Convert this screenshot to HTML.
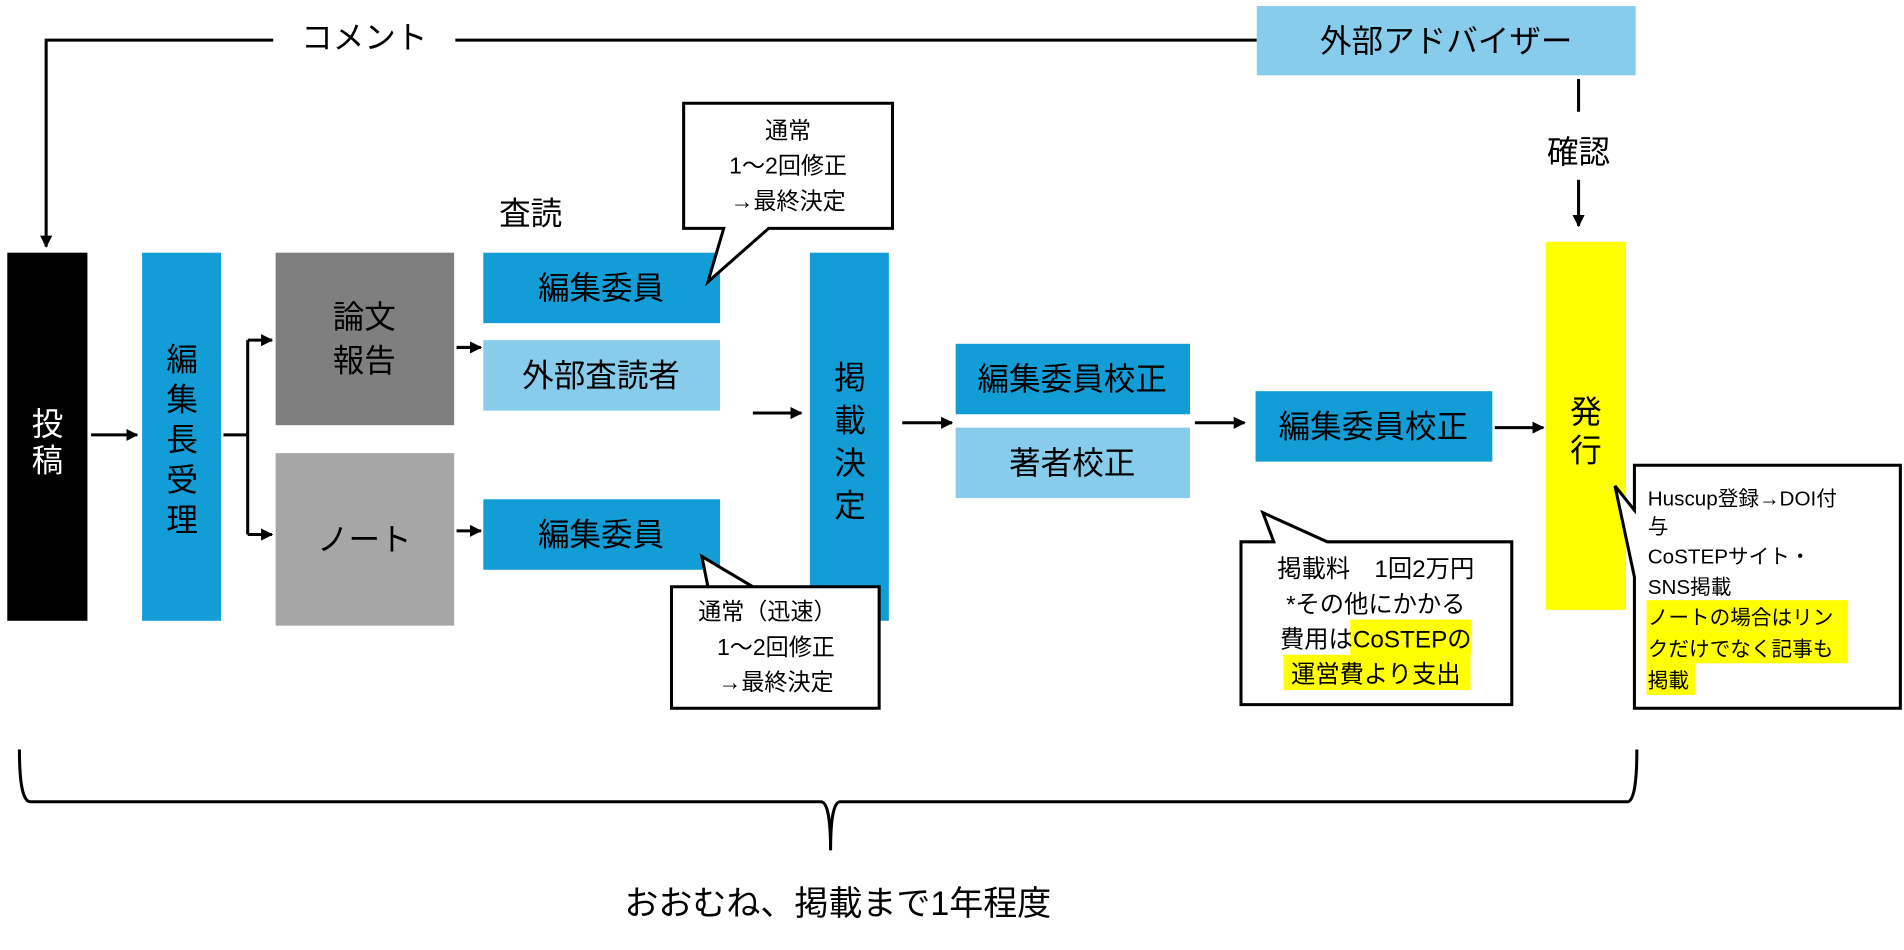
<!DOCTYPE html>
<html><head><meta charset="utf-8"><style>
html,body{margin:0;padding:0;background:#fff;}
svg{display:block;}
text{font-family:"Liberation Sans","Noto Sans CJK JP",sans-serif;fill:#000;}
</style></head><body>
<svg width="1904" height="950" viewBox="0 0 1568 782" preserveAspectRatio="none" xmlns="http://www.w3.org/2000/svg">
<defs>
<marker id="a" markerWidth="10" markerHeight="10" refX="9" refY="5" orient="auto" markerUnits="userSpaceOnUse"><path d="M0,0 L10,5 L0,10 z" fill="#000"/></marker>
</defs>
<g stroke="#000" stroke-width="2.5" fill="none">
<path d="M225,33 H38 V203" marker-end="url(#a)"/>
<path d="M375,33 H1035"/>
<path d="M1300,65 V92"/>
<path d="M1300,148 V186" marker-end="url(#a)"/>
<path d="M75,358 H113" marker-end="url(#a)"/>
<path d="M184,358 H204 M204,280 V440"/>
<path d="M204,280 H224" marker-end="url(#a)"/>
<path d="M204,440 H224" marker-end="url(#a)"/>
<path d="M376,286 H396" marker-end="url(#a)"/>
<path d="M376,437 H396" marker-end="url(#a)"/>
<path d="M620,340 H660" marker-end="url(#a)"/>
<path d="M743,348 H784" marker-end="url(#a)"/>
<path d="M984,348 H1025" marker-end="url(#a)"/>
<path d="M1231,352 H1271" marker-end="url(#a)"/>
</g>
<rect x="1035" y="5" width="312" height="57" fill="#87CCEB"/>
<rect x="6" y="208" width="66" height="303" fill="#000"/>
<rect x="117" y="208" width="65" height="303" fill="#129DD7"/>
<rect x="227" y="208" width="147" height="142" fill="#7F7F7F"/>
<rect x="227" y="373" width="147" height="142" fill="#A6A6A6"/>
<rect x="398" y="208" width="195" height="58" fill="#129DD7"/>
<rect x="398" y="280" width="195" height="58" fill="#87CCEB"/>
<rect x="398" y="411" width="195" height="58" fill="#129DD7"/>
<rect x="667" y="208" width="65" height="303" fill="#129DD7"/>
<rect x="787" y="283" width="193" height="58" fill="#129DD7"/>
<rect x="787" y="352" width="193" height="58" fill="#87CCEB"/>
<rect x="1034" y="322" width="195" height="58" fill="#129DD7"/>
<rect x="1273" y="199" width="66" height="303" fill="#FFFF00"/>

<path d="M563,85 H735 V188 H633 L583,232 L596,188 H563 Z" fill="#fff" stroke="#000" stroke-width="2.5"/>
<path d="M553,483 H620 L578,458 L583,483 H553 V583 H724 V483 H620" fill="#fff" stroke="#000" stroke-width="2.5"/>
<path d="M1022,446 H1049 L1040,422 L1093,446 H1245 V580 H1022 Z" fill="#fff" stroke="#000" stroke-width="2.5"/>
<path d="M1346,383 H1565 V583 H1346 V475 L1330,400 L1346,420 Z" fill="#fff" stroke="#000" stroke-width="2.5"/>

<path d="M16,617 Q16,660 25,660 H676 Q684,660 684,700 Q684,660 692,660 H1340 Q1348,660 1348,617" fill="none" stroke="#000" stroke-width="2.5"/>

<g font-size="26">
<text x="300" y="40" text-anchor="middle">コメント</text>
<text x="1191" y="43" text-anchor="middle">外部アドバイザー</text>
<text x="1300" y="134" text-anchor="middle">確認</text>
<text x="437" y="185" text-anchor="middle">査読</text>
<text x="39" y="358" text-anchor="middle" style="fill:#fff">投</text>
<text x="39" y="388" text-anchor="middle" style="fill:#fff">稿</text>
<text x="150" y="305" text-anchor="middle">編</text>
<text x="150" y="338" text-anchor="middle">集</text>
<text x="150" y="371" text-anchor="middle">長</text>
<text x="150" y="404" text-anchor="middle">受</text>
<text x="150" y="437" text-anchor="middle">理</text>
<text x="300" y="270" text-anchor="middle">論文</text>
<text x="300" y="306" text-anchor="middle">報告</text>
<text x="300" y="453" text-anchor="middle">ノート</text>
<text x="495" y="246" text-anchor="middle">編集委員</text>
<text x="495" y="318" text-anchor="middle">外部査読者</text>
<text x="495" y="449" text-anchor="middle">編集委員</text>
<text x="700" y="320" text-anchor="middle">掲</text>
<text x="700" y="355" text-anchor="middle">載</text>
<text x="700" y="390" text-anchor="middle">決</text>
<text x="700" y="425" text-anchor="middle">定</text>
<text x="883" y="321" text-anchor="middle">編集委員校正</text>
<text x="883" y="390" text-anchor="middle">著者校正</text>
<text x="1131" y="360" text-anchor="middle">編集委員校正</text>
<text x="1306" y="348" text-anchor="middle">発</text>
<text x="1306" y="380" text-anchor="middle">行</text>
<text x="690" y="753" text-anchor="middle" font-size="28">おおむね、掲載まで1年程度</text>
</g>
<g font-size="19" text-anchor="middle">
<text x="649" y="114">通常</text>
<text x="649" y="143">1～2回修正</text>
<text x="649" y="172">→最終決定</text>
<text x="632" y="510">通常（迅速）</text>
<text x="639" y="539">1～2回修正</text>
<text x="639" y="568">→最終決定</text>
</g>
<rect x="1112" y="510" width="100" height="29" fill="#FFFF00"/>
<rect x="1057" y="539" width="154" height="29" fill="#FFFF00"/>
<rect x="1356" y="494" width="166" height="26" fill="#FFFF00"/>
<rect x="1356" y="520" width="166" height="26" fill="#FFFF00"/>
<rect x="1356" y="546" width="40" height="26" fill="#FFFF00"/>
<g font-size="20" text-anchor="middle">
<text x="1133" y="475">掲載料　1回2万円</text>
<text x="1133" y="504">*その他にかかる</text>
<text x="1133" y="533">費用はCoSTEPの</text>
<text x="1133" y="562">運営費より支出</text>
</g>
<g font-size="17">
<text x="1357" y="416">Huscup登録→DOI付</text>
<text x="1357" y="439">与</text>
<text x="1357" y="464">CoSTEPサイト・</text>
<text x="1357" y="489">SNS掲載</text>
<text x="1357" y="514">ノートの場合はリン</text>
<text x="1357" y="540">クだけでなく記事も</text>
<text x="1357" y="566">掲載</text>
</g>
</svg>
</body></html>
